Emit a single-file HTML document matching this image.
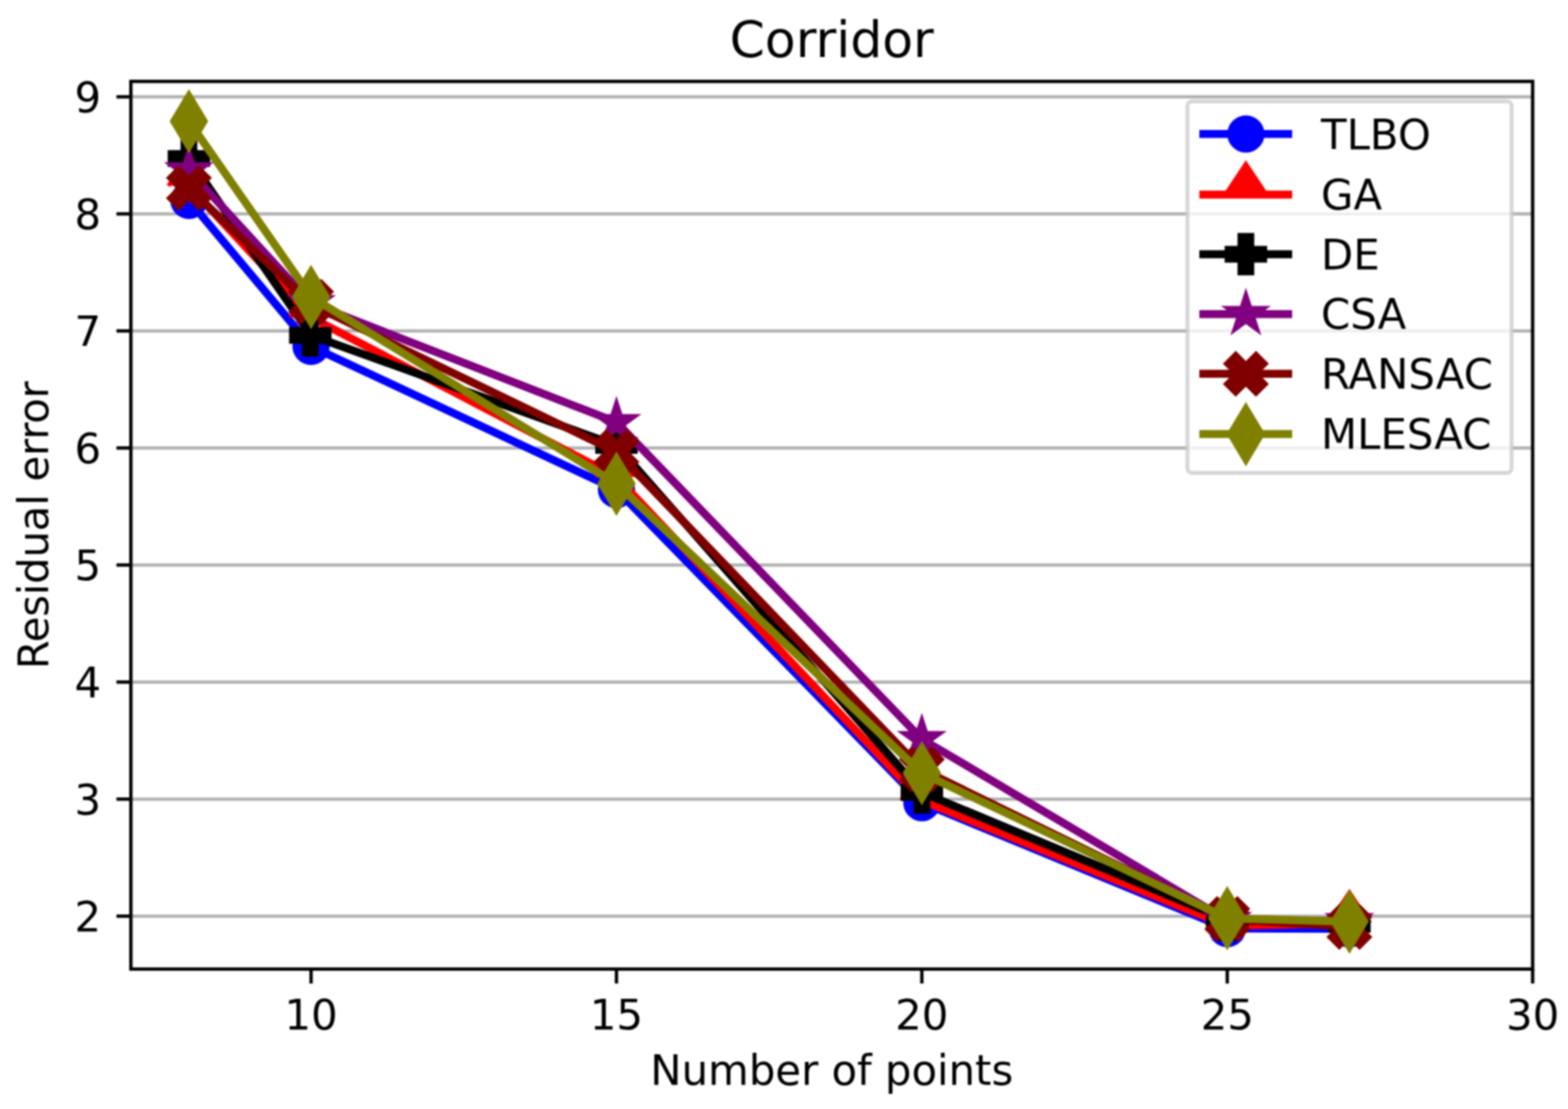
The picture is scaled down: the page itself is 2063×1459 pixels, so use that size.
<!DOCTYPE html>
<html lang="en">
<head>
<meta charset="utf-8">
<title>Corridor</title>
<style>
html,body{margin:0;padding:0;background:#ffffff;}
body{width:2063px;height:1459px;overflow:hidden;}
svg text{font-kerning:normal;}
svg{filter:blur(0.8px);}
</style>
</head>
<body>
<svg width="2063" height="1459" viewBox="0 0 2063 1459" style="display:block">
<rect x="0" y="0" width="2063" height="1459" fill="#ffffff"/>
<g stroke="#b0b0b0" stroke-width="4.2" fill="none">
<line x1="172.2" y1="1205.3" x2="2016.5" y2="1205.3"/>
<line x1="172.2" y1="1051.31" x2="2016.5" y2="1051.31"/>
<line x1="172.2" y1="897.33" x2="2016.5" y2="897.33"/>
<line x1="172.2" y1="743.34" x2="2016.5" y2="743.34"/>
<line x1="172.2" y1="589.36" x2="2016.5" y2="589.36"/>
<line x1="172.2" y1="435.37" x2="2016.5" y2="435.37"/>
<line x1="172.2" y1="281.39" x2="2016.5" y2="281.39"/>
<line x1="172.2" y1="127.4" x2="2016.5" y2="127.4"/>
</g>
<g stroke="#000000" stroke-width="4.4" fill="none">
<line x1="153.2" y1="1205.3" x2="172.2" y2="1205.3"/>
<line x1="153.2" y1="1051.31" x2="172.2" y2="1051.31"/>
<line x1="153.2" y1="897.33" x2="172.2" y2="897.33"/>
<line x1="153.2" y1="743.34" x2="172.2" y2="743.34"/>
<line x1="153.2" y1="589.36" x2="172.2" y2="589.36"/>
<line x1="153.2" y1="435.37" x2="172.2" y2="435.37"/>
<line x1="153.2" y1="281.39" x2="172.2" y2="281.39"/>
<line x1="153.2" y1="127.4" x2="172.2" y2="127.4"/>
<line x1="409.27" y1="1274.9" x2="409.27" y2="1293.9"/>
<line x1="811.08" y1="1274.9" x2="811.08" y2="1293.9"/>
<line x1="1212.88" y1="1274.9" x2="1212.88" y2="1293.9"/>
<line x1="1614.69" y1="1274.9" x2="1614.69" y2="1293.9"/>
<line x1="2016.5" y1="1274.9" x2="2016.5" y2="1293.9"/>
</g>
<g id="data">
<polyline points="248.54,263.7 409.27,455.7 811.08,644 1212.88,1056 1614.69,1221.6 1775.42,1222" fill="none" stroke="#0000ff" stroke-width="10.5" stroke-linejoin="round" stroke-linecap="square"/>
<circle cx="248.54" cy="263.7" r="24.5" fill="#0000ff"/>
<circle cx="409.27" cy="455.7" r="24.5" fill="#0000ff"/>
<circle cx="811.08" cy="644" r="24.5" fill="#0000ff"/>
<circle cx="1212.88" cy="1056" r="24.5" fill="#0000ff"/>
<circle cx="1614.69" cy="1221.6" r="24.5" fill="#0000ff"/>
<circle cx="1775.42" cy="1222" r="24.5" fill="#0000ff"/>
<polyline points="248.54,244.5 409.27,417.6 811.08,627.5 1212.88,1053 1614.69,1218 1775.42,1214.5" fill="none" stroke="#ff0000" stroke-width="10.5" stroke-linejoin="round" stroke-linecap="square"/>
<path d="M221.37 244.5 L248.54 203.73 L275.72 244.5" fill="#ff0000" stroke="#ff0000" stroke-width="5.08" stroke-linejoin="miter" stroke-linecap="butt" stroke-miterlimit="10"/>
<path d="M382.09 417.6 L409.27 376.83 L436.44 417.6" fill="#ff0000" stroke="#ff0000" stroke-width="5.08" stroke-linejoin="miter" stroke-linecap="butt" stroke-miterlimit="10"/>
<path d="M783.9 627.5 L811.08 586.73 L838.25 627.5" fill="#ff0000" stroke="#ff0000" stroke-width="5.08" stroke-linejoin="miter" stroke-linecap="butt" stroke-miterlimit="10"/>
<path d="M1185.71 1053 L1212.88 1012.23 L1240.06 1053" fill="#ff0000" stroke="#ff0000" stroke-width="5.08" stroke-linejoin="miter" stroke-linecap="butt" stroke-miterlimit="10"/>
<path d="M1587.51 1218 L1614.69 1177.23 L1641.87 1218" fill="#ff0000" stroke="#ff0000" stroke-width="5.08" stroke-linejoin="miter" stroke-linecap="butt" stroke-miterlimit="10"/>
<path d="M1748.24 1214.5 L1775.42 1173.73 L1802.59 1214.5" fill="#ff0000" stroke="#ff0000" stroke-width="5.08" stroke-linejoin="miter" stroke-linecap="butt" stroke-miterlimit="10"/>
<polyline points="248.54,208.5 409.27,441.3 811.08,586 1212.88,1042.5 1614.69,1210 1775.42,1216" fill="none" stroke="#000000" stroke-width="10.5" stroke-linejoin="round" stroke-linecap="square"/>
<polygon points="240.08,183.1 257.01,183.1 257.01,200.03 273.94,200.03 273.94,216.97 257.01,216.97 257.01,233.9 240.08,233.9 240.08,216.97 223.14,216.97 223.14,200.03 240.08,200.03" fill="#000000" stroke="#000000" stroke-width="5.08" stroke-linejoin="miter" stroke-miterlimit="10"/>
<polygon points="399.8,415.9 416.73,415.9 416.73,432.83 433.67,432.83 433.67,449.77 416.73,449.77 416.73,466.7 399.8,466.7 399.8,449.77 382.87,449.77 382.87,432.83 399.8,432.83" fill="#000000" stroke="#000000" stroke-width="5.08" stroke-linejoin="miter" stroke-miterlimit="10"/>
<polygon points="802.61,560.6 819.54,560.6 819.54,577.53 836.48,577.53 836.48,594.47 819.54,594.47 819.54,611.4 802.61,611.4 802.61,594.47 785.68,594.47 785.68,577.53 802.61,577.53" fill="#000000" stroke="#000000" stroke-width="5.08" stroke-linejoin="miter" stroke-miterlimit="10"/>
<polygon points="1204.42,1017.1 1221.35,1017.1 1221.35,1034.03 1238.28,1034.03 1238.28,1050.97 1221.35,1050.97 1221.35,1067.9 1204.42,1067.9 1204.42,1050.97 1187.48,1050.97 1187.48,1034.03 1204.42,1034.03" fill="#000000" stroke="#000000" stroke-width="5.08" stroke-linejoin="miter" stroke-miterlimit="10"/>
<polygon points="1606.23,1184.6 1623.16,1184.6 1623.16,1201.53 1640.09,1201.53 1640.09,1218.47 1623.16,1218.47 1623.16,1235.4 1606.23,1235.4 1606.23,1218.47 1589.29,1218.47 1589.29,1201.53 1606.23,1201.53" fill="#000000" stroke="#000000" stroke-width="5.08" stroke-linejoin="miter" stroke-miterlimit="10"/>
<polygon points="1766.95,1190.6 1783.88,1190.6 1783.88,1207.53 1800.82,1207.53 1800.82,1224.47 1783.88,1224.47 1783.88,1241.4 1766.95,1241.4 1766.95,1224.47 1750.02,1224.47 1750.02,1207.53 1766.95,1207.53" fill="#000000" stroke="#000000" stroke-width="5.08" stroke-linejoin="miter" stroke-miterlimit="10"/>
<polyline points="248.54,224.2 409.27,399 811.08,555.5 1212.88,972.4 1614.69,1210.5 1775.42,1211.9" fill="none" stroke="#800080" stroke-width="10.5" stroke-linejoin="round" stroke-linecap="square"/>
<polygon points="248.54,197.78 254.47,216.04 273.67,216.04 258.14,227.32 264.07,245.57 248.54,234.29 233.02,245.57 238.95,227.32 223.42,216.04 242.61,216.04" fill="#800080" stroke="#800080" stroke-width="5.08" stroke-linejoin="miter" stroke-miterlimit="10"/>
<polygon points="409.27,372.58 415.2,390.84 434.39,390.84 418.86,402.12 424.79,420.37 409.27,409.09 393.74,420.37 399.67,402.12 384.14,390.84 403.34,390.84" fill="#800080" stroke="#800080" stroke-width="5.08" stroke-linejoin="miter" stroke-miterlimit="10"/>
<polygon points="811.08,529.08 817.01,547.34 836.2,547.34 820.67,558.62 826.6,576.87 811.08,565.59 795.55,576.87 801.48,558.62 785.95,547.34 805.14,547.34" fill="#800080" stroke="#800080" stroke-width="5.08" stroke-linejoin="miter" stroke-miterlimit="10"/>
<polygon points="1212.88,945.98 1218.81,964.24 1238.01,964.24 1222.48,975.52 1228.41,993.77 1212.88,982.49 1197.36,993.77 1203.29,975.52 1187.76,964.24 1206.95,964.24" fill="#800080" stroke="#800080" stroke-width="5.08" stroke-linejoin="miter" stroke-miterlimit="10"/>
<polygon points="1614.69,1184.08 1620.62,1202.34 1639.81,1202.34 1624.29,1213.62 1630.22,1231.87 1614.69,1220.59 1599.16,1231.87 1605.1,1213.62 1589.57,1202.34 1608.76,1202.34" fill="#800080" stroke="#800080" stroke-width="5.08" stroke-linejoin="miter" stroke-miterlimit="10"/>
<polygon points="1775.42,1185.48 1781.35,1203.74 1800.54,1203.74 1785.01,1215.02 1790.94,1233.27 1775.42,1221.99 1759.89,1233.27 1765.82,1215.02 1750.29,1203.74 1769.48,1203.74" fill="#800080" stroke="#800080" stroke-width="5.08" stroke-linejoin="miter" stroke-miterlimit="10"/>
<polyline points="248.54,247.4 409.27,400.5 811.08,594.5 1212.88,1012.3 1614.69,1209 1775.42,1219.4" fill="none" stroke="#800000" stroke-width="10.5" stroke-linejoin="round" stroke-linecap="square"/>
<polygon points="235.21,220.73 248.54,234.06 261.88,220.73 275.21,234.06 261.88,247.4 275.21,260.74 261.88,274.07 248.54,260.74 235.21,274.07 221.87,260.74 235.21,247.4 221.87,234.06" fill="#800000" stroke="#800000" stroke-width="5.08" stroke-linejoin="miter" stroke-miterlimit="10"/>
<polygon points="395.93,370.33 409.27,383.67 422.6,370.33 435.94,383.67 422.6,397 435.94,410.33 422.6,423.67 409.27,410.33 395.93,423.67 382.6,410.33 395.93,397 382.6,383.67" fill="#800000" stroke="#800000" stroke-width="5.08" stroke-linejoin="miter" stroke-miterlimit="10"/>
<polygon points="797.74,567.83 811.08,581.16 824.41,567.83 837.75,581.16 824.41,594.5 837.75,607.84 824.41,621.17 811.08,607.84 797.74,621.17 784.41,607.84 797.74,594.5 784.41,581.16" fill="#800000" stroke="#800000" stroke-width="5.08" stroke-linejoin="miter" stroke-miterlimit="10"/>
<polygon points="1199.55,985.63 1212.88,998.96 1226.22,985.63 1239.55,998.96 1226.22,1012.3 1239.55,1025.63 1226.22,1038.97 1212.88,1025.63 1199.55,1038.97 1186.21,1025.63 1199.55,1012.3 1186.21,998.96" fill="#800000" stroke="#800000" stroke-width="5.08" stroke-linejoin="miter" stroke-miterlimit="10"/>
<polygon points="1601.36,1182.33 1614.69,1195.66 1628.03,1182.33 1641.36,1195.66 1628.03,1209 1641.36,1222.34 1628.03,1235.67 1614.69,1222.34 1601.36,1235.67 1588.02,1222.34 1601.36,1209 1588.02,1195.66" fill="#800000" stroke="#800000" stroke-width="5.08" stroke-linejoin="miter" stroke-miterlimit="10"/>
<polygon points="1762.08,1192.73 1775.42,1206.07 1788.75,1192.73 1802.09,1206.07 1788.75,1219.4 1802.09,1232.74 1788.75,1246.07 1775.42,1232.74 1762.08,1246.07 1748.75,1232.74 1762.08,1219.4 1748.75,1206.07" fill="#800000" stroke="#800000" stroke-width="5.08" stroke-linejoin="miter" stroke-miterlimit="10"/>
<polyline points="248.54,159.5 409.27,390.6 811.08,636.4 1212.88,1017.1 1614.69,1207.9 1775.42,1212.6" fill="none" stroke="#808000" stroke-width="10.5" stroke-linejoin="round" stroke-linecap="square"/>
<polygon points="248.54,122.14 270.96,159.5 248.54,196.86 226.13,159.5" fill="#808000" stroke="#808000" stroke-width="5.08" stroke-linejoin="miter" stroke-miterlimit="10"/>
<polygon points="409.27,353.24 431.68,390.6 409.27,427.96 386.85,390.6" fill="#808000" stroke="#808000" stroke-width="5.08" stroke-linejoin="miter" stroke-miterlimit="10"/>
<polygon points="811.08,599.04 833.49,636.4 811.08,673.76 788.66,636.4" fill="#808000" stroke="#808000" stroke-width="5.08" stroke-linejoin="miter" stroke-miterlimit="10"/>
<polygon points="1212.88,979.74 1235.3,1017.1 1212.88,1054.46 1190.47,1017.1" fill="#808000" stroke="#808000" stroke-width="5.08" stroke-linejoin="miter" stroke-miterlimit="10"/>
<polygon points="1614.69,1170.54 1637.11,1207.9 1614.69,1245.26 1592.28,1207.9" fill="#808000" stroke="#808000" stroke-width="5.08" stroke-linejoin="miter" stroke-miterlimit="10"/>
<polygon points="1775.42,1175.24 1797.83,1212.6 1775.42,1249.96 1753,1212.6" fill="#808000" stroke="#808000" stroke-width="5.08" stroke-linejoin="miter" stroke-miterlimit="10"/>
</g>
<rect x="172.2" y="107.1" width="1844.3" height="1167.8" fill="none" stroke="#000000" stroke-width="4.4"/>
<g font-family="'DejaVu Sans', 'Liberation Sans', sans-serif" fill="#000000" font-size="55.1px">
<text x="133" y="1225.1" text-anchor="end">2</text>
<text x="133" y="1071.11" text-anchor="end">3</text>
<text x="133" y="917.13" text-anchor="end">4</text>
<text x="133" y="763.14" text-anchor="end">5</text>
<text x="133" y="609.16" text-anchor="end">6</text>
<text x="133" y="455.17" text-anchor="end">7</text>
<text x="133" y="301.19" text-anchor="end">8</text>
<text x="133" y="147.2" text-anchor="end">9</text>
<text x="409.27" y="1353.6" text-anchor="middle">10</text>
<text x="811.08" y="1353.6" text-anchor="middle">15</text>
<text x="1212.88" y="1353.6" text-anchor="middle">20</text>
<text x="1614.69" y="1353.6" text-anchor="middle">25</text>
<text x="2016.5" y="1353.6" text-anchor="middle">30</text>
<text x="1094.35" y="1427" text-anchor="middle" textLength="477.5" lengthAdjust="spacing">Number of points</text>
<text transform="translate(63.2 691) rotate(-90)" text-anchor="middle" textLength="379" lengthAdjust="spacing">Residual error</text>
<text x="1094.35" y="74.6" text-anchor="middle" font-size="66.3px">Corridor</text>
</g>
<rect x="1562.3" y="133.4" width="426.5" height="488.7" rx="6" ry="6" fill="#ffffff" fill-opacity="0.8" stroke="#cccccc" stroke-opacity="0.8" stroke-width="5.08"/>
<g id="legend" font-family="'DejaVu Sans', 'Liberation Sans', sans-serif" fill="#000000" font-size="55.1px">
<line x1="1583.2" y1="176.3" x2="1694.8" y2="176.3" stroke="#0000ff" stroke-width="10.5" stroke-linecap="square"/>
<circle cx="1639.2" cy="176.3" r="24.5" fill="#0000ff"/>
<text x="1738" y="195.9">TLBO</text>
<line x1="1583.2" y1="256.1" x2="1694.8" y2="256.1" stroke="#ff0000" stroke-width="10.5" stroke-linecap="square"/>
<path d="M1612.02 256.1 L1639.2 215.33 L1666.38 256.1" fill="#ff0000" stroke="#ff0000" stroke-width="5.08" stroke-linejoin="miter" stroke-linecap="butt" stroke-miterlimit="10"/>
<text x="1738" y="274.6">GA</text>
<line x1="1583.2" y1="334.4" x2="1694.8" y2="334.4" stroke="#000000" stroke-width="10.5" stroke-linecap="square"/>
<polygon points="1630.73,309 1647.67,309 1647.67,325.93 1664.6,325.93 1664.6,342.87 1647.67,342.87 1647.67,359.8 1630.73,359.8 1630.73,342.87 1613.8,342.87 1613.8,325.93 1630.73,325.93" fill="#000000" stroke="#000000" stroke-width="5.08" stroke-linejoin="miter" stroke-miterlimit="10"/>
<text x="1738" y="353.5">DE</text>
<line x1="1583.2" y1="413.2" x2="1694.8" y2="413.2" stroke="#800080" stroke-width="10.5" stroke-linecap="square"/>
<polygon points="1639.2,386.78 1645.13,405.04 1664.32,405.04 1648.8,416.32 1654.73,434.57 1639.2,423.29 1623.67,434.57 1629.6,416.32 1614.08,405.04 1633.27,405.04" fill="#800080" stroke="#800080" stroke-width="5.08" stroke-linejoin="miter" stroke-miterlimit="10"/>
<text x="1738" y="432.3">CSA</text>
<line x1="1583.2" y1="491.8" x2="1694.8" y2="491.8" stroke="#800000" stroke-width="10.5" stroke-linecap="square"/>
<polygon points="1625.87,465.13 1639.2,478.47 1652.54,465.13 1665.87,478.47 1652.54,491.8 1665.87,505.13 1652.54,518.47 1639.2,505.13 1625.87,518.47 1612.53,505.13 1625.87,491.8 1612.53,478.47" fill="#800000" stroke="#800000" stroke-width="5.08" stroke-linejoin="miter" stroke-miterlimit="10"/>
<text x="1738" y="511.1">RANSAC</text>
<line x1="1583.2" y1="571.1" x2="1694.8" y2="571.1" stroke="#808000" stroke-width="10.5" stroke-linecap="square"/>
<polygon points="1639.2,533.74 1661.61,571.1 1639.2,608.46 1616.79,571.1" fill="#808000" stroke="#808000" stroke-width="5.08" stroke-linejoin="miter" stroke-miterlimit="10"/>
<text x="1738" y="589.9">MLESAC</text>
</g>
</svg>
</body>
</html>
